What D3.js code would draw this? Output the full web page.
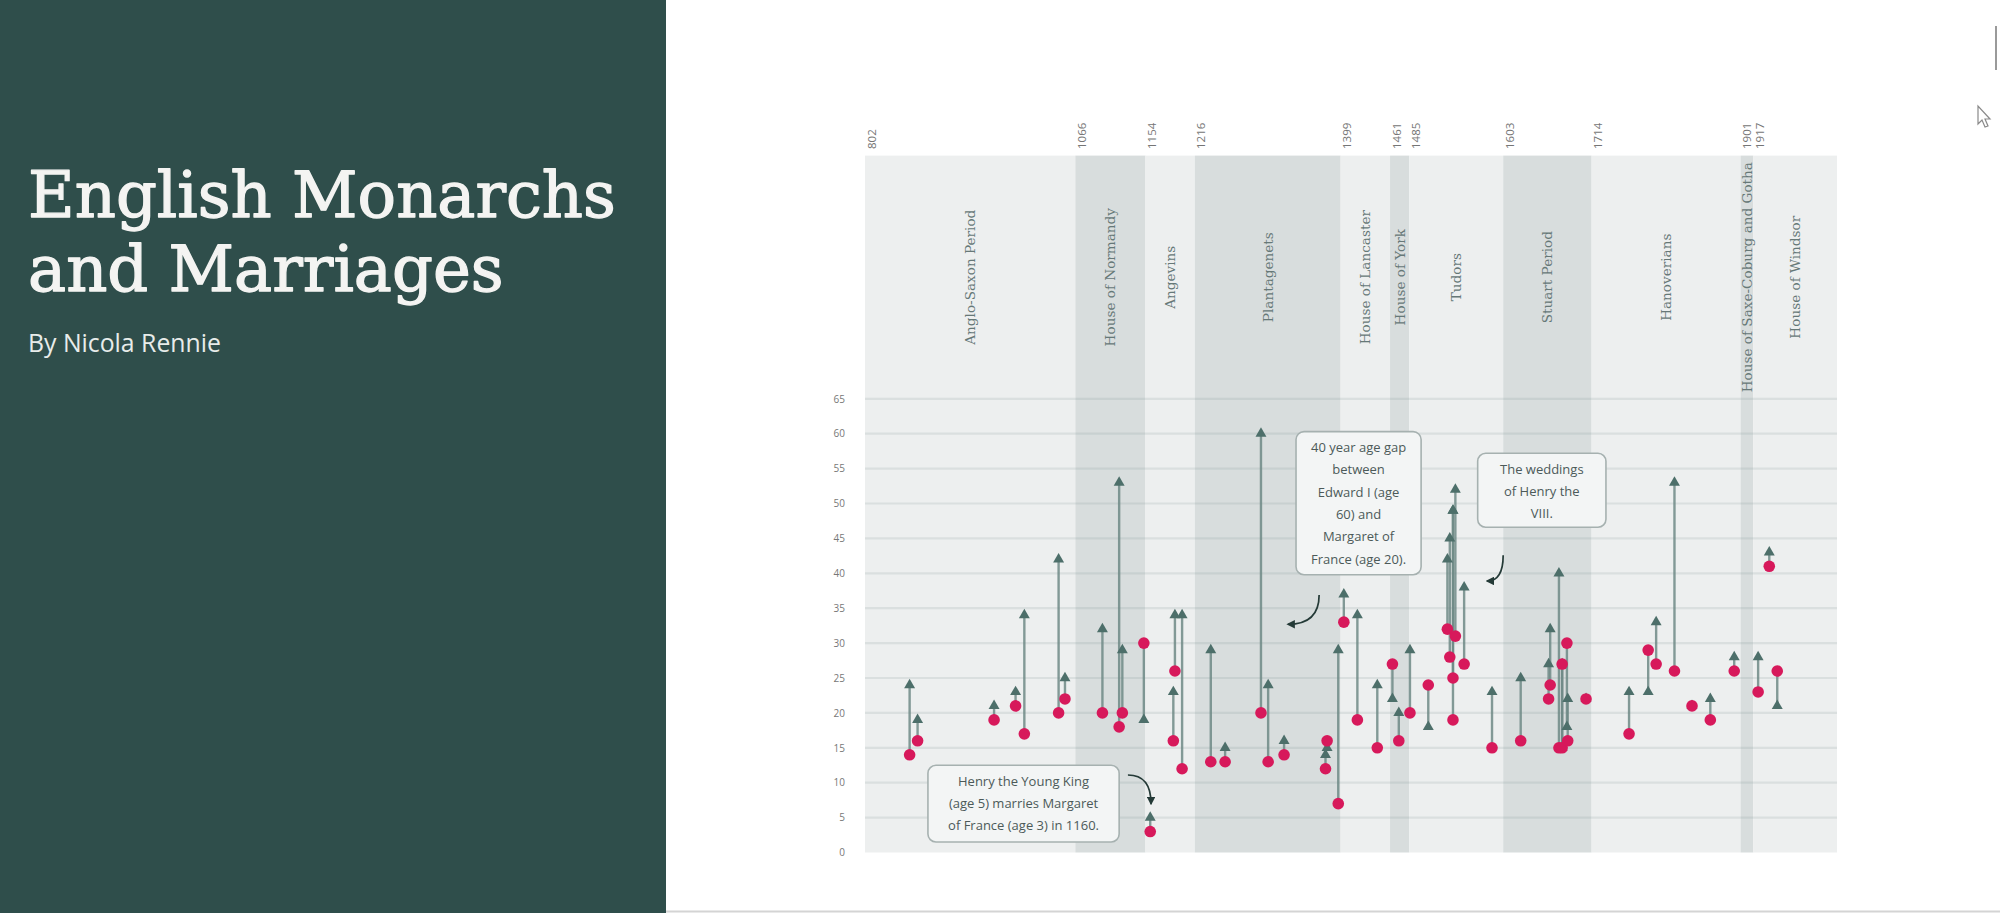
<!DOCTYPE html>
<html>
<head>
<meta charset="utf-8">
<script src="https://cdn.jsdelivr.net/npm/d3@7"></script>
<style>
  html, body { margin: 0; padding: 0; background: #ffffff; }
  svg { display: block; }
</style>
</head>
<body>
<svg id="chart" width="2000" height="913"></svg>
<script>
// ---------------- DATA ----------------
const marriageYear = [858, 868, 964, 991, 1002, 1045, 1053, 1100, 1121, 1125, 1152, 1160, 1189, 1191, 1200, 1236, 1254, 1299, 1308, 1328, 1380, 1382, 1396, 1403, 1420, 1445, 1464, 1472, 1486, 1509, 1533, 1536, 1540, 1540, 1543, 1554, 1589, 1625, 1660, 1662, 1673, 1677, 1677, 1683, 1684, 1707, 1761, 1785, 1795, 1818, 1840, 1863, 1893, 1923, 1937, 1947];
const kingAge      = [24, 19, 21, 23, 34, 42, 25, 32, 53, 29, 19, 5, 23, 34, 34, 29, 15, 60, 24, 16, 14, 15, 29, 37, 34, 24, 22, 20, 29, 18, 42, 45, 49, 49, 52, 38, 23, 25, 27, 32, 40, 27, 15, 18, 22, 22, 23, 23, 33, 53, 21, 22, 28, 28, 43, 21];
const consortAge   = [14, 16, 19, 21, 17, 20, 22, 20, 18, 20, 30, 3, 16, 26, 12, 13, 13, 20, 13, 14, 12, 16, 7, 33, 19, 15, 27, 16, 20, 24, 32, 28, 25, 19, 31, 27, 15, 16, 22, 24, 15, 15, 27, 30, 16, 22, 17, 29, 27, 26, 21, 19, 26, 23, 41, 26];

const periodNames = ["Anglo-Saxon Period", "House of Normandy", "Angevins", "Plantagenets", "House of Lancaster", "House of York", "Tudors", "Stuart Period", "Hanoverians", "House of Saxe-Coburg and Gotha", "House of Windsor"];
const periodStart = [802, 1066, 1154, 1216, 1399, 1461, 1485, 1603, 1714, 1901, 1917];
const periodEnd   = [1066, 1154, 1216, 1399, 1461, 1485, 1603, 1714, 1901, 1917, 2022];

const ageTicks = [0, 5, 10, 15, 20, 25, 30, 35, 40, 45, 50, 55, 60, 65];

const noteLines = [
  ["Henry the Young King", "(age 5) marries Margaret", "of France (age 3) in 1160."],
  ["40 year age gap", "between", "Edward I (age", "60) and", "Margaret of", "France (age 20)."],
  ["The weddings", "of Henry the", "VIII."]
];
// annotation box extents in data units [yearLeft, yearRight], [ageTop, ageBottom]
const noteBoxYears = [[881, 1121], [1343, 1500], [1571, 1732]];
const noteBoxAges  = [[12.5, 1.5], [60.3, 39.8], [57.2, 46.6]];
// arrows: [year, age] start and end
const arrowFrom = [[1132, 11.1], [1372, 36.9], [1603, 42.6]];
const arrowTo   = [[1161, 7.0], [1333, 32.7], [1583, 38.9]];
const arrowBend = ["h", "v", "v"];

const titleLines = ["English Monarchs", "and Marriages"];
const subtitle = "By Nicola Rennie";

// ---------------- LAYOUT ----------------
const svg = d3.select("#chart");
const W = 2000, H = 913;
const panelW = 666;
const bandTop = 155.6;

const x = d3.scaleLinear().domain([802, 2022]).range([865, 1837]);
const y = d3.scaleLinear().domain([0, 65]).range([852.5, 398.8]);

const LIGHT = "#edefef", DARK = "#d8dddd";

// left panel
svg.append("rect").attr("x", 0).attr("y", 0).attr("width", panelW).attr("height", H).attr("fill", "#2f4e4b");

const title = svg.append("g");
const t1 = title.append("text").attr("x", 28).attr("y", 217).text(titleLines[0])
  .attr("font-family", "DejaVu Serif").attr("font-size", 64).attr("fill", "#f4f4f2");
const len1 = t1.node().getComputedTextLength();
const tSize = 64 * 588 / len1;
t1.attr("font-size", tSize);
title.append("text").attr("x", 28).attr("y", 291).text(titleLines[1])
  .attr("font-family", "DejaVu Serif").attr("font-size", tSize).attr("fill", "#f4f4f2");
title.selectAll("text").attr("stroke", "#f4f4f2").attr("stroke-width", 1.3).attr("stroke-linejoin", "round");

const st = svg.append("text").attr("x", 28).attr("y", 352).text(subtitle)
  .attr("font-family", "Open Sans").attr("font-size", 20).attr("fill", "#e8ecea");
const stLen = st.node().getComputedTextLength();
st.attr("font-size", 20 * 193 / stLen);

// bottom border + scroll indicator
svg.append("line").attr("x1", panelW).attr("x2", W).attr("y1", 911.5).attr("y2", 911.5)
  .attr("stroke", "#d4d4d4").attr("stroke-width", 2);
svg.append("line").attr("x1", 1996).attr("x2", 1996).attr("y1", 26).attr("y2", 70)
  .attr("stroke", "#9a9a9a").attr("stroke-width", 2);
svg.append("path").attr("d", "M1978,106 L1978,124 L1982,120 L1985,127 L1988,126 L1985,119 L1990,119 Z")
  .attr("fill", "#ffffff").attr("stroke", "#8a8a8a").attr("stroke-width", 1.2);

// period bands
const periods = periodNames.map((n, i) => ({ name: n, start: periodStart[i], end: periodEnd[i], i }));
svg.append("g").selectAll("rect").data(periods).join("rect")
  .attr("x", d => x(d.start)).attr("width", d => x(d.end) - x(d.start))
  .attr("y", bandTop).attr("height", y(0) - bandTop)
  .attr("fill", d => d.i % 2 === 0 ? LIGHT : DARK);

// gridlines
svg.append("g").selectAll("line").data(ageTicks.filter(v => v > 0)).join("line")
  .attr("x1", x(802)).attr("x2", x(2022))
  .attr("y1", d => y(d)).attr("y2", d => y(d))
  .attr("stroke", "rgba(120,140,140,0.16)").attr("stroke-width", 2.2);

// y-axis labels
const yAxis = d3.axisLeft(y).tickValues(ageTicks).tickSize(0).tickPadding(0);
const yg = svg.append("g").attr("transform", "translate(845,0)").call(yAxis);
yg.select(".domain").remove();
yg.selectAll("text").attr("font-family", "Open Sans").attr("font-size", 10).attr("fill", "#777");

// year labels at top
svg.append("g").selectAll("text").data(periodStart).join("text")
  .attr("transform", d => `translate(${x(d) + 6},149) rotate(-90)`)
  .attr("text-anchor", "start").attr("dominant-baseline", "central")
  .attr("font-family", "Open Sans").attr("font-size", 11.5).attr("fill", "#757575")
  .text(d => d);

// period labels
const labelY = (bandTop + y(65)) / 2;
svg.append("g").selectAll("text").data(periods).join("text")
  .attr("transform", d => `translate(${(x(d.start) + x(d.end)) / 2},${labelY}) rotate(-90)`)
  .attr("text-anchor", "middle").attr("dominant-baseline", "central")
  .attr("font-family", "DejaVu Serif").attr("font-size", 13.6).attr("fill", "#667877")
  .text(d => d.name);

// marriages
const marriages = marriageYear.map((yr, i) => ({ yr, k: kingAge[i], c: consortAge[i] }));
svg.append("g").selectAll("line").data(marriages).join("line")
  .attr("x1", d => x(d.yr)).attr("x2", d => x(d.yr))
  .attr("y1", d => y(d.c)).attr("y2", d => y(d.k))
  .attr("stroke", "#6f8a86").attr("stroke-width", 2.4).attr("stroke-opacity", 0.85);
svg.append("g").selectAll("path").data(marriages).join("path")
  .attr("transform", d => `translate(${x(d.yr)},${y(d.k)})`)
  .attr("d", d3.symbol(d3.symbolTriangle, 52))
  .attr("fill", "#4d6f6a");
svg.append("g").selectAll("circle").data(marriages).join("circle")
  .attr("cx", d => x(d.yr)).attr("cy", d => y(d.c)).attr("r", 5.8)
  .attr("fill", "#d7195b");

// annotations
const defs = svg.append("defs");
defs.append("marker").attr("id", "ah").attr("viewBox", "0 0 10 10")
  .attr("refX", 8).attr("refY", 5).attr("markerWidth", 5).attr("markerHeight", 5)
  .attr("markerUnits", "strokeWidth").attr("orient", "auto")
  .append("path").attr("d", "M0,0 L10,5 L0,10 Z").attr("fill", "#243a37");

noteLines.forEach((lines, i) => {
  const bx0 = x(noteBoxYears[i][0]), bx1 = x(noteBoxYears[i][1]);
  const by0 = y(noteBoxAges[i][0]), by1 = y(noteBoxAges[i][1]);
  const g = svg.append("g");
  g.append("rect").attr("x", bx0).attr("y", by0).attr("width", bx1 - bx0).attr("height", by1 - by0)
    .attr("rx", 8).attr("fill", "#f3f5f5").attr("stroke", "#a6b1b0").attr("stroke-width", 1.6);
  g.selectAll("text").data(lines).join("text")
    .attr("x", (bx0 + bx1) / 2).attr("y", (d, j) => by0 + 15.5 + j * 22.3)
    .attr("text-anchor", "middle").attr("dominant-baseline", "central")
    .attr("font-family", "Open Sans").attr("font-size", 13).attr("fill", "#4c5a59")
    .text(d => d);

  const sx = x(arrowFrom[i][0]), sy = y(arrowFrom[i][1]);
  const ex = x(arrowTo[i][0]), ey = y(arrowTo[i][1]);
  const cx = arrowBend[i] === "h" ? ex : sx;
  const cy = arrowBend[i] === "h" ? sy : ey;
  const p = d3.path();
  p.moveTo(sx, sy);
  p.quadraticCurveTo(cx, cy, ex, ey);
  svg.append("path").attr("d", p.toString()).attr("fill", "none")
    .attr("stroke", "#243a37").attr("stroke-width", 1.7).attr("marker-end", "url(#ah)");
});
</script>
</body>
</html>
